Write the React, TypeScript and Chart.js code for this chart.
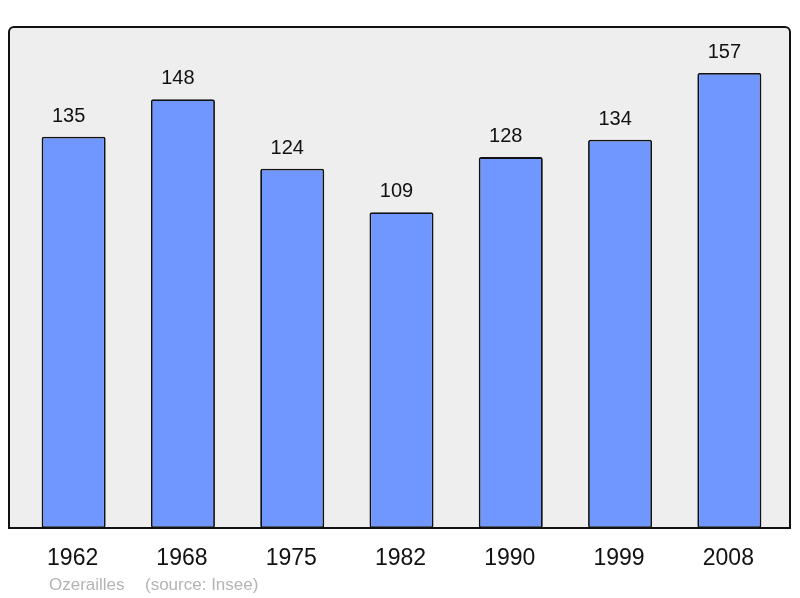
import React, { useEffect, useRef } from "react";
import { Chart, registerables } from "chart.js";

Chart.register(...registerables);

const years = ["1962", "1968", "1975", "1982", "1990", "1999", "2008"];
const population = [135, 148, 124, 109, 128, 134, 157];
const commune = "Ozerailles";
const sourceText = "(source: Insee)";

const FONT = "'Liberation Sans', Arial, sans-serif";

const framePlugin = {
  id: "frame",
  beforeDraw(chart: any) {
    const ctx = chart.ctx;
    const x = 9, y = 27, w = 781, h = 501, r = 5;
    ctx.save();
    ctx.beginPath();
    ctx.moveTo(x + r, y);
    ctx.lineTo(x + w - r, y);
    ctx.arcTo(x + w, y, x + w, y + r, r);
    ctx.lineTo(x + w, y + h);
    ctx.lineTo(x, y + h);
    ctx.lineTo(x, y + r);
    ctx.arcTo(x, y, x + r, y, r);
    ctx.closePath();
    ctx.fillStyle = "#eeeeee";
    ctx.fill();
    ctx.lineWidth = 2;
    ctx.strokeStyle = "#111111";
    ctx.stroke();
    ctx.restore();
  },
  afterDraw(chart: any) {
    const ctx = chart.ctx;
    const meta = chart.getDatasetMeta(0);
    const xScale = chart.scales.x;
    ctx.save();
    ctx.textAlign = "center";
    ctx.textBaseline = "alphabetic";
    ctx.fillStyle = "#111111";
    ctx.font = `20px ${FONT}`;
    meta.data.forEach((bar: any, i: number) => {
      ctx.fillText(String(population[i]), bar.x - 5, bar.y - 15);
    });
    ctx.font = `23px ${FONT}`;
    years.forEach((yr, i) => {
      ctx.fillText(yr, xScale.getPixelForValue(i) - 1, 565);
    });
    ctx.textAlign = "left";
    ctx.fillStyle = "#b4b4b4";
    ctx.font = `17px ${FONT}`;
    ctx.fillText(commune, 49, 590);
    ctx.fillText(sourceText, 145, 590);
    ctx.restore();
  },
};

export default function App() {
  const ref = useRef<HTMLCanvasElement | null>(null);
  useEffect(() => {
    if (!ref.current) return;
    const chart = new Chart(ref.current, {
      type: "bar",
      data: {
        labels: years,
        datasets: [
          {
            data: population,
            backgroundColor: "#7097ff",
            borderColor: "#111111",
            borderWidth: 1.8,
            borderRadius: 2,
            borderSkipped: false,
            barPercentage: 0.586,
            categoryPercentage: 1,
          },
        ],
      },
      options: {
        responsive: false,
        animation: false,
        layout: { padding: { left: 19, right: 16, top: 27, bottom: 70 } },
        plugins: { legend: { display: false }, tooltip: { enabled: false } },
        scales: {
          x: { display: false },
          y: { display: false, min: 0, max: 172.9 },
        },
      },
      plugins: [framePlugin],
    });
    return () => chart.destroy();
  }, []);
  return (
    <div style={{ position: "absolute", left: 0, top: 0, width: 800, height: 598 }}>
      <canvas ref={ref} width={800} height={598} />
    </div>
  );
}
